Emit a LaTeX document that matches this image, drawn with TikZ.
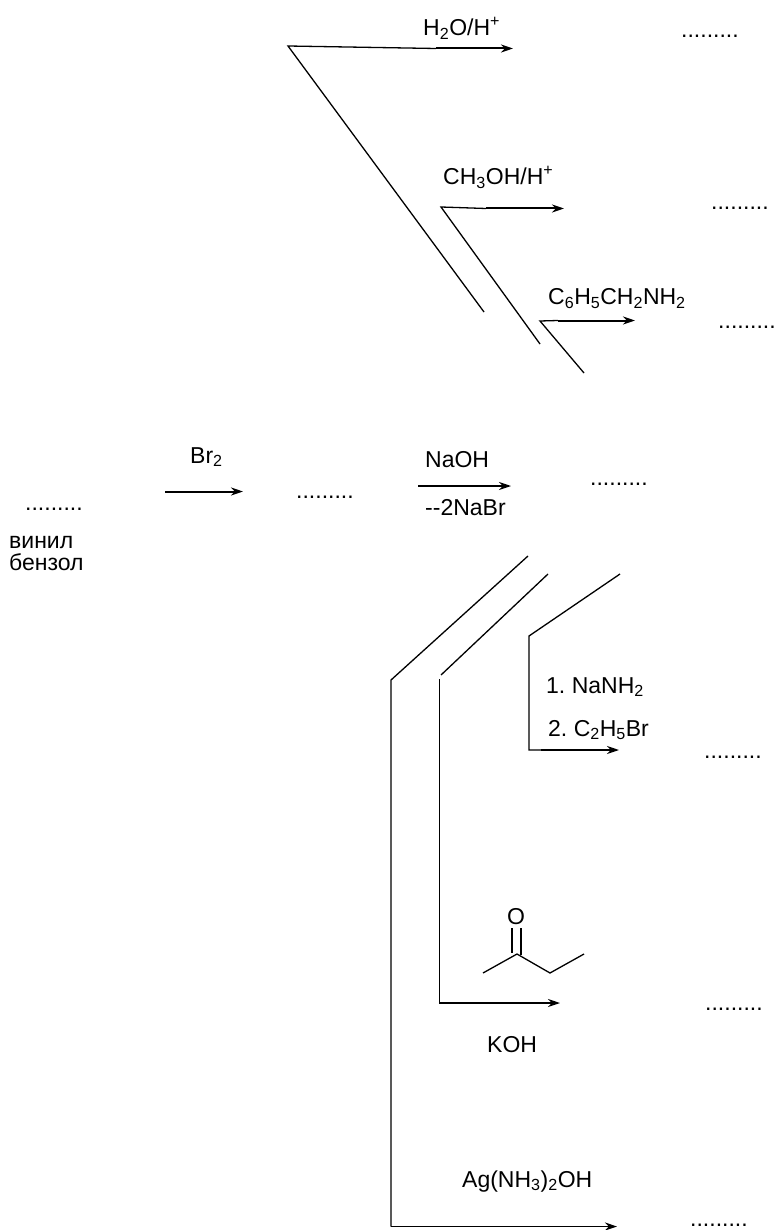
\documentclass[tikz,border=0pt]{standalone}
\usepackage{fontspec}
\setmainfont{Liberation Sans}
\usepackage{tikz}
\usetikzlibrary{arrows.meta}
\newcommand{\lo}[1]{\textsubscript{#1}}
\newcommand{\hi}[1]{\textsuperscript{#1}}
\tikzset{
  reagent/.style={anchor=base west,inner sep=0pt,font=\fontsize{23}{26}\selectfont},
  dotsrow/.style={anchor=base west,inner sep=0pt,font=\fontsize{23}{26}\selectfont},
  bond/.style={line width=1.3pt},
  rxn/.style={line width=2pt,-{Stealth[length=12pt,width=8pt]}},
}

\begin{document}
\frenchspacing
\begin{tikzpicture}[x=1pt,y=-1pt]
\useasboundingbox (0,0) rectangle (776,1230);
% start and first step
\node[dotsrow] (styrene) at (25,510) {.........};
\node[reagent] (nameA) at (9,548) {винил};
\node[reagent] (nameB) at (9,570) {бензол};
\node[reagent] (brtwo) at (190,463) {Br\lo{2}};
\coordinate (brA) at (165,491.5);
\coordinate (brB) at (243,491.5);
\draw[rxn] (brA) -- (brB);
\node[dotsrow] (dibromide) at (296,498) {.........};
\node[reagent] (naoh) at (425,467) {NaOH};
\coordinate (naA) at (418,486);
\coordinate (naB) at (511,486);
\draw[rxn,line width=1.5pt] (naA) -- (naB);
\node[reagent] (nabr) at (425,515) {{-}{-}2NaBr};
\node[dotsrow] (alkyne) at (590,485) {.........};
% upper branches
\coordinate (waterEnd) at (484,312);
\coordinate (waterTop) at (288,46);
\coordinate (waterIn) at (436,48.5);
\coordinate (waterOut) at (513,48.5);
\draw[bond] (waterEnd) -- (waterTop) -- (waterIn);
\draw[rxn] (waterIn) -- (waterOut);
\node[reagent] (water) at (423,36) {H\lo{2}O/H\hi{+}};
\node[dotsrow] (waterDots) at (681,38) {.........};
\coordinate (methEnd) at (540,344);
\coordinate (methTop) at (441,207);
\coordinate (methIn) at (486,208.5);
\coordinate (methOut) at (564,208.5);
\draw[bond] (methEnd) -- (methTop) -- (methIn);
\draw[rxn] (methIn) -- (methOut);
\node[reagent] (meth) at (443,185) {CH\lo{3}OH/H\hi{+}};
\node[dotsrow] (methDots) at (711,210) {.........};
\coordinate (amineEnd) at (584,373);
\coordinate (amineTop) at (540,321);
\coordinate (amineIn) at (558,320.5);
\coordinate (amineOut) at (635,320.5);
\draw[bond] (amineEnd) -- (amineTop) -- (amineIn);
\draw[rxn] (amineIn) -- (amineOut);
\node[reagent] (amine) at (548,305) {C\lo{6}H\lo{5}CH\lo{2}NH\lo{2}};
\node[dotsrow] (amineDots) at (718,328) {.........};
% lower branches
\coordinate (alkEnd) at (620,574);
\coordinate (alkBend) at (529,636);
\coordinate (alkCorner) at (529,750);
\coordinate (alkIn) at (541,750);
\coordinate (alkOut) at (619,750);
\draw[bond] (alkEnd) -- (alkBend) -- (alkCorner) -- (alkIn);
\draw[rxn] (alkIn) -- (alkOut);
\node[reagent] (nanh) at (546,693) {1. NaNH\lo{2}};
\node[reagent] (etbr) at (548,736) {2. C\lo{2}H\lo{5}Br};
\node[dotsrow] (alkDots) at (704,758) {.........};
\coordinate (ketA) at (548,574);
\coordinate (ketB) at (441,675);
\coordinate (ketC) at (439.5,679);
\coordinate (ketCorner) at (439.5,1003);
\coordinate (ketIn) at (449,1003);
\coordinate (ketOut) at (560,1003);
\draw[bond] (ketA) -- (ketB);
\draw[bond] (ketC) -- (ketCorner) -- (ketIn);
\draw[rxn] (ketIn) -- (ketOut);
\node[inner sep=0pt,font=\fontsize{23}{26}\selectfont] (oxy) at (516,917) {O};
\coordinate (ketMe) at (483,973);
\coordinate (ketCO) at (517,954);
\coordinate (ketCH) at (550,973);
\coordinate (ketEt) at (584,954);
\draw[bond] (ketMe) -- (ketCO) -- (ketCH) -- (ketEt);
\coordinate (dblA) at (512,928);
\coordinate (dblB) at (512,953);
\coordinate (dblC) at (521,928);
\coordinate (dblD) at (521,955);
\draw[bond] (dblA) -- (dblB);
\draw[bond] (dblC) -- (dblD);
\node[reagent] (koh) at (487,1052) {KOH};
\node[dotsrow] (ketDots) at (705,1010) {.........};
\coordinate (agA) at (528,556);
\coordinate (agB) at (391,680);
\coordinate (agCorner) at (391,1226.5);
\coordinate (agOut) at (617,1226.5);
\draw[bond] (agA) -- (agB) -- (agCorner);
\draw[rxn,line width=1.5pt] (agCorner) -- (agOut);
\node[reagent] (tollens) at (462,1187) {Ag(NH\lo{3})\lo{2}OH};
\node[dotsrow] (agDots) at (690,1226) {.........};
\end{tikzpicture}
\end{document}
